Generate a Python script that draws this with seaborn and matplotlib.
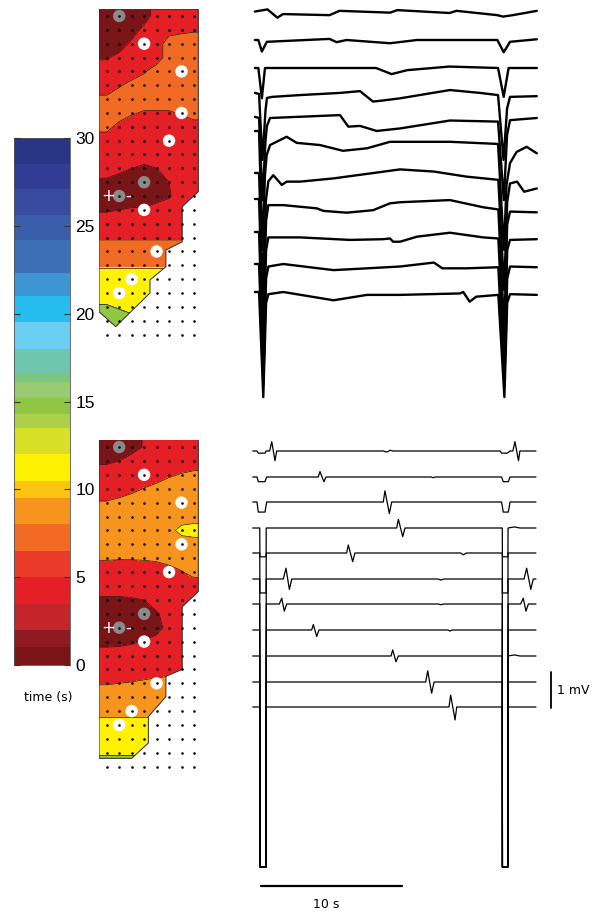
import numpy as np
import pandas as pd
import seaborn as sns
import matplotlib
matplotlib.use("Agg")
import matplotlib.pyplot as plt
from matplotlib.colors import ListedColormap, BoundaryNorm
from matplotlib.cm import ScalarMappable
from matplotlib.patches import Polygon

# ---------------------------------------------------------------- colour scale (time, s)
cbar_bounds = [0, 1, 2, 3.5, 5, 6.5, 8, 9.5, 10.5, 12, 13.5, 14.3, 15.2, 16.1, 16.6,
               18, 19.5, 21, 22.3, 24.2, 25.6, 27.1, 28.5, 30]
cbar_colors = ["#7a1517", "#8e1b1f", "#c4252b", "#e41f26", "#ea3a2a", "#f26b25",
               "#f7941e", "#fdc40f", "#fff100", "#d7df27", "#acd04a", "#8fc742",
               "#98ca72", "#7dc67f", "#6dc6ae", "#6acff0", "#25bdf0", "#3d95d2",
               "#3b70b6", "#3a5ea9", "#374c9f", "#303d92", "#293687"]
cbar_ticks = [0, 5, 10, 15, 20, 25, 30]

# ---------------------------------------------------------------- activation maps
# zone of each electrode (24 rows top->bottom, 8 columns)
# 0 dark red, 1 red, 2 orange, 3 yellow, 4 green
top_zones = np.array([
    [0, 0, 0, 0, 1, 1, 1, 1],
    [0, 0, 0, 0.8, 1, 1.1, 1.3, 1.4],
    [0, 0, 0.7, 1, 1, 2, 2, 2],
    [0.4, 0.8, 1, 1, 1, 2, 2, 2],
    [1, 1, 1, 1.4, 2, 2, 2, 2],
    [1, 1.4, 1.8, 2, 2, 2, 2, 2],
    [1.7, 2, 2, 2, 2, 2, 2, 2],
    [2, 2, 1.6, 1.4, 1.4, 1.4, 1.6, 2],
    [1.8, 1.2, 1, 1, 1, 1, 1, 1],
    [1, 1, 1, 1, 1, 1, 1, 1],
    [1, 1, 1, 1, 1, 1, 1, 1],
    [1, 0.8, 0.5, 0.3, 0.5, 1, 1, 1],
    [0.3, 0, 0, 0, 0, 0.5, 1, 1],
    [0, 0, 0, 0, 0, 0.4, 1, 1],
    [0.4, 0.5, 0.6, 0.6, 1, 1, 1, 1],
    [1, 1, 1, 1, 1, 1, 1, 1],
    [1.4, 1.4, 1.4, 1.4, 1.4, 1.4, 1.4, 1.4],
    [2, 2, 2, 2, 2, 2, 2, 2],
    [2.4, 2.4, 2.4, 2.4, 2.4, 2.4, 2.4, 2.4],
    [3, 3, 3, 3, 3, 3, 3, 3],
    [3, 3, 3, 3, 3, 3, 3, 3],
    [3.6, 3.4, 3, 3, 3, 3, 3, 3],
    [4, 4, 4, 4, 4, 4, 4, 4],
    [4, 4, 4, 4, 4, 4, 4, 4],
])
bottom_zones = np.array([
    [0, 0, 0, 0.6, 1, 1, 1, 1],
    [0.33, 0.5, 1, 1, 1, 1, 1, 1],
    [1, 1, 1, 1, 1, 1.38, 1.56, 1.71],
    [1, 1, 1.23, 1.53, 1.83, 2, 2, 2],
    [1.56, 1.77, 2, 2, 2, 2, 2, 2],
    [2, 2, 2, 2, 2, 2, 2, 2],
    [2, 2, 2, 2, 2, 2.2, 2.8, 3],
    [2, 2, 2, 2, 2, 2, 2, 2],
    [1.59, 1.56, 1.56, 1.59, 1.67, 2, 2, 2],
    [1, 1, 1, 1, 1, 1, 1.44, 1.83],
    [1, 1, 1, 1, 1, 1, 1, 1],
    [0.33, 0.33, 0.41, 0.5, 1, 1, 1, 1],
    [0, 0, 0, 0, 0.38, 1, 1, 1],
    [0, 0, 0, 0, 0, 1, 1, 1],
    [0.17, 0.23, 0.38, 0.56, 1, 1, 1, 1],
    [1, 1, 1, 1, 1, 1, 1, 1],
    [1, 1, 1, 1, 1, 1, 1, 1],
    [1.44, 1.5, 1.56, 1.67, 1.83, 2, 2, 2],
    [2, 2, 2, 2, 2, 2, 2, 2],
    [2.09, 2.09, 2.09, 2.09, 2.09, 2.09, 2.09, 2.09],
    [3, 3, 3, 3, 3, 3, 3, 3],
    [3, 3, 3, 3, 3, 3, 3, 3],
    [3.4, 3.4, 3.4, 3.4, 3.4, 3.4, 3.4, 3.4],
    [4, 4, 4, 4, 4, 4, 4, 4],
])
top_zone_colors = [cbar_colors[i] for i in (0, 3, 5, 8, 11)]
bottom_zone_colors = [cbar_colors[i] for i in (0, 3, 6, 8, 11)]

# mapped tissue outline (column, row)
top_outline = [(-0.62, -0.48), (7.35, -0.48), (7.35, 12.68), (6.06, 13.77), (6.06, 16.3),
               (4.75, 16.9), (4.75, 18.1), (3.47, 19.06), (3.47, 20.0), (0.72, 22.43),
               (-0.62, 21.35)]
bottom_outline = [(-0.62, -0.55), (7.35, -0.55), (7.35, 10.4), (6.06, 11.5), (6.06, 16.0),
                  (4.75, 16.5), (4.75, 17.96), (3.34, 19.4), (3.34, 21.3), (2.0, 22.4),
                  (-0.62, 22.4)]

# recording / stimulating electrodes
elec_col = [1, 3, 6, 6, 5, 3, 1, 3, 4, 2, 1]
elec_row = [0, 2, 4, 7, 9, 12, 13, 14, 17, 19, 20]
elec_kind = ["grey", "white", "white", "white", "white", "grey", "grey",
             "white", "white", "white", "white"]

# ---------------------------------------------------------------- traces (time s, mV)
top_traces = [
    [(0.2, 0.04), (1.1, 0.1), (1.8, -0.13), (2.2, -0.03), (5.5, -0.06), (6.2, 0.06), (9.8, 0.01),
     (10.3, 0.08), (14.0, 0.0), (14.5, 0.06), (17.4, -0.06), (17.8, -0.1), (18.5, -0.06), (20.2, 0.06)],
    [(0.2, 0.0), (0.45, 0.0), (0.7, -0.32), (1.05, -0.05), (5.5, 0.03), (6.0, -0.06), (6.7, 0.0),
     (9.8, -0.09), (11.7, 0.0), (17.4, 0.0), (17.85, -0.34), (18.3, -0.05), (20.2, 0.02)],
    [(0.21, 0.0), (0.45, 0.0), (0.7, -0.84), (0.92, 0.0), (8.8, 0.0), (9.9, -0.17), (11.0, -0.06),
     (14.0, 0.04), (17.45, 0.0), (17.85, -0.8), (18.2, 0.0), (20.2, 0.0)],
    [(0.21, 0.03), (0.5, 0.0), (0.74, -1.83), (0.96, -0.44), (1.06, -0.11), (1.42, -0.08),
     (3.4, -0.03), (6.24, 0.03), (7.66, 0.08), (8.58, -0.21), (9.08, -0.19), (10.5, -0.12),
     (14.04, 0.11), (16.17, 0.03), (17.45, -0.03), (17.84, -1.83), (18.09, -0.4), (18.3, -0.08),
     (20.2, -0.06)],
    [(0.21, 0.03), (0.5, 0.0), (0.74, -2.28), (0.96, -0.61), (1.06, -0.22), (1.28, 0.0),
     (6.24, 0.08), (6.83, -0.24), (7.66, -0.22), (8.84, -0.36), (10.5, -0.29), (14.04, -0.07),
     (17.45, -0.1), (17.86, -2.28), (18.09, -0.47), (18.3, -0.06), (20.2, 0.0)],
    [(0.21, 0.0), (0.5, 0.0), (0.74, -3.3), (0.92, -1.22), (1.04, -0.67), (1.28, -0.39),
     (2.46, -0.16), (3.17, -0.33), (4.82, -0.39), (6.45, -0.55), (8.16, -0.48), (9.79, -0.3),
     (14.04, -0.3), (17.45, -0.36), (17.87, -3.3), (18.05, -1.5), (18.3, -0.89), (18.77, -0.58),
     (19.48, -0.44), (20.2, -0.62)],
    [(0.21, 0.0), (0.5, 0.0), (0.77, -3.25), (0.99, -0.75), (1.16, -0.23), (1.51, -0.06),
     (2.11, -0.33), (2.46, -0.24), (3.4, -0.24), (5.78, -0.15), (10.5, 0.1), (12.9, 0.04),
     (15.2, -0.1), (17.47, -0.19), (17.88, -3.25), (18.1, -0.8), (18.3, -0.29), (18.8, -0.24),
     (19.3, -0.52), (20.2, -0.43)],
    [(0.21, 0.0), (0.5, 0.0), (0.78, -3.64), (1.0, -0.6), (1.16, -0.17), (2.22, -0.17),
     (4.6, -0.26), (5.06, -0.33), (6.72, -0.38), (8.6, -0.31), (9.79, -0.12), (10.5, -0.09),
     (14.04, -0.03), (16.4, -0.23), (17.47, -0.29), (17.89, -3.64), (18.1, -0.7), (18.3, -0.35),
     (20.2, -0.37)],
    [(0.21, 0.0), (0.5, 0.0), (0.79, -3.56), (1.0, -0.5), (1.16, -0.15), (3.4, -0.15),
     (6.95, -0.22), (9.3, -0.2), (9.79, -0.18), (10.0, -0.27), (10.5, -0.27), (11.7, -0.13),
     (14.04, -0.02), (16.4, -0.15), (17.47, -0.18), (17.9, -3.56), (18.1, -0.5), (18.3, -0.22),
     (20.2, -0.2)],
    [(0.21, 0.0), (0.5, 0.0), (0.8, -3.36), (1.0, -0.4), (1.16, -0.07), (2.22, 0.0),
     (5.78, -0.17), (8.16, -0.12), (10.5, -0.07), (12.9, 0.04), (13.5, -0.12), (15.2, -0.12),
     (17.47, -0.09), (17.9, -3.36), (18.1, -0.4), (18.3, -0.07), (20.2, -0.09)],
    [(0.21, 0.0), (0.5, 0.0), (0.8, -2.92), (1.0, -0.3), (1.16, -0.06), (2.22, 0.0),
     (5.78, -0.23), (8.16, -0.08), (10.5, -0.08), (14.75, -0.04), (14.98, 0.0), (15.44, -0.27),
     (15.9, -0.13), (17.47, -0.08), (17.9, -2.92), (18.1, -0.3), (18.3, -0.06), (20.2, -0.08)],
]

bottom_traces = [
    [(0.05, 0), (0.35, 0), (0.45, -0.06), (0.92, -0.06), (1.0, 0), (1.25, 0), (1.4, 0.26),
     (1.63, -0.27), (1.75, 0), (9.3, 0), (9.55, -0.03), (9.8, 0.02), (10.0, 0), (17.6, 0),
     (17.7, -0.06), (18.1, -0.06), (18.3, 0), (18.5, 0), (18.65, 0.26), (18.9, -0.27), (19.0, 0),
     (20.14, 0)],
    [(0.05, 0), (0.35, 0), (0.45, -0.13), (0.92, -0.13), (1.04, 0), (4.7, 0), (4.82, 0.15),
     (5.1, -0.13), (5.25, 0), (12.7, 0), (12.86, -0.02), (13.0, 0), (17.7, 0), (17.82, -0.13),
     (18.18, -0.13), (18.3, 0), (20.14, 0)],
    [(0.05, 0), (0.35, 0), (0.45, -0.28), (0.92, -0.28), (1.04, 0), (9.31, 0), (9.43, 0.31),
     (9.74, -0.32), (9.91, 0), (17.7, 0), (17.82, -0.28), (18.18, -0.28), (18.3, 0), (20.14, 0)],
    [(0.05, 0), (0.55, 0), (0.56, -0.8), (1.0, -0.8), (1.01, 0), (10.26, 0), (10.38, 0.24),
     (10.69, -0.24), (10.85, 0), (17.75, 0), (17.76, -0.8), (18.15, -0.8), (18.16, 0),
     (18.6, 0.03), (19.0, 0), (20.14, 0)],
    [(0.05, 0), (0.55, 0), (0.56, -1.11), (1.0, -1.11), (1.01, 0), (6.71, 0), (6.83, 0.22),
     (7.14, -0.24), (7.3, 0), (14.8, 0), (14.98, -0.05), (15.2, 0), (17.75, 0), (17.76, -1.11),
     (18.15, -1.11), (18.16, 0), (20.14, 0)],
    [(0.05, 0), (0.55, 0), (0.56, -8.0), (1.0, -8.0), (1.01, 0), (2.22, 0), (2.41, 0.3),
     (2.65, -0.29), (2.82, 0), (13.2, 0), (13.4, -0.03), (13.6, 0), (17.75, 0), (17.76, -8.0),
     (18.15, -8.0), (18.16, 0), (19.29, 0), (19.48, 0.3), (19.77, -0.29), (19.95, 0), (20.14, 0)],
    [(0.05, 0), (0.55, 0), (0.56, -7.3), (1.0, -7.3), (1.01, 0), (1.94, 0), (2.11, 0.16),
     (2.29, -0.2), (2.46, 0), (13.2, 0), (13.4, -0.02), (13.6, 0), (17.75, 0), (17.76, -7.3),
     (18.15, -7.3), (18.16, 0), (19.05, 0), (19.24, 0.16), (19.43, -0.2), (19.6, 0), (20.14, 0)],
    [(0.05, 0), (0.55, 0), (0.56, -6.58), (1.0, -6.58), (1.01, 0), (4.23, 0), (4.35, 0.15),
     (4.59, -0.18), (4.75, 0), (13.9, 0), (14.04, -0.03), (14.2, 0), (17.75, 0), (17.76, -6.58),
     (18.15, -6.58), (18.16, 0), (20.14, 0)],
    [(0.05, 0), (0.55, 0), (0.56, -5.86), (1.0, -5.86), (1.01, 0), (9.86, 0), (9.98, 0.17),
     (10.21, -0.16), (10.38, 0), (17.75, 0), (17.76, -5.86), (18.15, -5.86), (18.16, 0),
     (18.6, 0.03), (19.0, 0), (20.14, 0)],
    [(0.05, 0), (0.55, 0), (0.56, -5.14), (1.0, -5.14), (1.01, 0), (12.32, 0), (12.46, 0.31),
     (12.74, -0.31), (12.91, 0), (17.75, 0), (17.76, -5.14), (18.15, -5.14), (18.16, 0),
     (20.14, 0)],
    [(0.05, 0), (0.55, 0), (0.56, -4.44), (1.0, -4.44), (1.01, 0), (13.97, 0), (14.09, 0.33),
     (14.4, -0.36), (14.52, 0), (17.75, 0), (17.76, -4.44), (18.15, -4.44), (18.16, 0),
     (20.14, 0)],
]

# ---------------------------------------------------------------- layout (figure pixels)
W, H = 602, 917
PX_PER_S = 14.1
PX_PER_MV = 36.0
top_rows_y = [13, 40, 68, 94, 118, 131, 173, 199, 232, 264, 292]
bottom_rows_y = [451, 477, 502, 528, 553, 579, 604, 630, 656, 682, 707]

sns.set_theme(style="white")
plt.rcParams["font.family"] = ["DejaVu Sans"]
plt.rcParams["text.color"] = "black"

fig = plt.figure(figsize=(W / 100, H / 100), dpi=100)


def fig_rect(x0, y0, x1, y1):
    return [x0 / W, 1 - y1 / H, (x1 - x0) / W, (y1 - y0) / H]


# colour bar
cax = fig.add_axes(fig_rect(14, 138, 70, 665))
cmap = ListedColormap(cbar_colors)
norm = BoundaryNorm(cbar_bounds, cmap.N)
cb = fig.colorbar(ScalarMappable(norm=norm, cmap=cmap), cax=cax, spacing="proportional")
cb.minorticks_off()
cb.outline.set_linewidth(0.6)
cb.outline.set_edgecolor("#555555")
cax.set_axisbelow(False)
cax.set_yticks(cbar_ticks, labels=[str(v) for v in cbar_ticks],
               fontfamily="Liberation Sans", fontsize=12.5)
cax.tick_params(axis="y", which="major", direction="in", length=4, width=0.8,
                color="#333333", labelcolor="black", left=True, right=True,
                labelleft=False, labelright=True, pad=4)
fig.text(48 / W, 1 - 697 / H, "time (s)", ha="center", va="center", fontsize=9)


def draw_map(ax, zones, zone_colors, outline):
    z = np.pad(zones, 1, mode="edge")
    xs = np.arange(-1, 9)
    ys = np.arange(-1, 25)
    patch = Polygon(outline, closed=True, fc="none", ec="#2b2b2b", lw=0.7, zorder=3)
    ax.add_patch(patch)
    levels = [-0.5, 0.5, 1.5, 2.5, 3.5, 4.5]
    cf = ax.contourf(xs, ys, z, levels=levels, colors=zone_colors, zorder=1)
    cf.set_clip_path(patch)
    cl = ax.contour(xs, ys, z, levels=levels[1:-1], colors="#2a1212", linewidths=0.5, zorder=2)
    cl.set_clip_path(patch)
    el = pd.DataFrame({"c": elec_col, "r": elec_row, "kind": elec_kind})
    sns.scatterplot(data=el, x="c", y="r", hue="kind",
                    palette={"grey": "#8a8a8a", "white": "white"},
                    s=80, linewidth=0, legend=False, ax=ax, zorder=4)
    gx, gy = np.meshgrid(np.arange(8), np.arange(24))
    sns.scatterplot(x=gx.ravel(), y=gy.ravel(), s=3.5, color="black", linewidth=0,
                    ax=ax, zorder=5)
    ax.text(0.13, 13, "+", color="white", fontsize=12, ha="center", va="center", zorder=6)
    ax.text(1.75, 13, "-", color="white", fontsize=12, ha="center", va="center", zorder=6)
    ax.set_xlim(-0.62, 7.5)
    ax.set_ylim(23.5, -0.5)
    ax.axis("off")


ax_top = fig.add_axes(fig_rect(99, 16 - 0.5 * 13.85, 200.2, 16 + 23.5 * 13.85))
draw_map(ax_top, top_zones, top_zone_colors, top_outline)
ax_bot = fig.add_axes(fig_rect(99, 447 - 0.5 * 13.9, 200.2, 447 + 23.5 * 13.9))
draw_map(ax_bot, bottom_zones, bottom_zone_colors, bottom_outline)

# traces
ax_tr = fig.add_axes(fig_rect(252, 0, 600, H))
ax_tr.set_xlim(0, 348 / PX_PER_S)
ax_tr.set_ylim(-H / PX_PER_MV, 0)
ax_tr.axis("off")

for trace, y0 in zip(top_traces, top_rows_y):
    t = [p[0] for p in trace]
    v = [p[1] - y0 / PX_PER_MV for p in trace]
    sns.lineplot(x=t, y=v, sort=False, estimator=None, color="black", lw=1.7, ax=ax_tr)
for trace, y0 in zip(bottom_traces, bottom_rows_y):
    t = [p[0] for p in trace]
    v = [p[1] - y0 / PX_PER_MV for p in trace]
    sns.lineplot(x=t, y=v, sort=False, estimator=None, color="black", lw=0.9, ax=ax_tr)

# scale bars
t0 = (261 - 252) / PX_PER_S
ax_tr.plot([t0, t0 + 10], [-886 / PX_PER_MV] * 2, color="black", lw=1.6)
ax_tr.text((326 - 252) / PX_PER_S, -905 / PX_PER_MV, "10 s", ha="center", va="center",
           fontsize=9)
xs_bar = (551 - 252) / PX_PER_S
ax_tr.plot([xs_bar, xs_bar], [-672 / PX_PER_MV, -672 / PX_PER_MV - 1], color="black", lw=1.3)
ax_tr.text((557 - 252) / PX_PER_S, -690 / PX_PER_MV, "1 mV", ha="left", va="center",
           fontsize=9)

fig.savefig("out.png", dpi=100)
